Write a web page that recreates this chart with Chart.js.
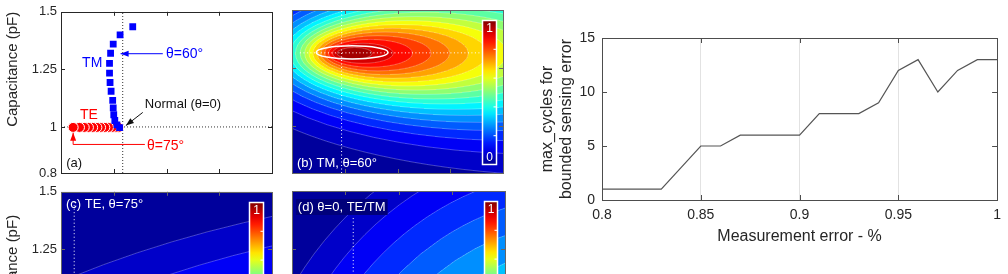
<!DOCTYPE html>
<html>
<head>
<meta charset="utf-8">
<script src="https://cdn.jsdelivr.net/npm/chart.js"></script>
<style>
  html, body { margin: 0; padding: 0; background: #fff; overflow: hidden; }
  body { width: 1008px; height: 274px; position: relative; }
  canvas { position: absolute; }
</style>
</head>
<body>
<canvas id="panelA" width="285" height="185" style="left:0px;top:0px"></canvas>
<canvas id="panelB" width="230" height="185" style="left:280px;top:0px"></canvas>
<canvas id="panelC" width="285" height="185" style="left:0px;top:180px"></canvas>
<canvas id="panelD" width="230" height="185" style="left:280px;top:180px"></canvas>
<canvas id="cyclesChart" width="488" height="274" style="left:520px;top:0px"></canvas>
<script>
// right chart: max cycles vs measurement error
const errorLevels = [0.80, 0.81, 0.82, 0.83, 0.84, 0.85, 0.86, 0.87, 0.88, 0.89, 0.90,
                     0.91, 0.92, 0.93, 0.94, 0.95, 0.96, 0.97, 0.98, 0.99, 1.00];
const maxCycles = [1, 1, 1, 1, 3, 5, 5, 6, 6, 6, 6, 8, 8, 8, 9, 12, 13, 10, 12, 13, 13];
const errorTicks = [0.8, 0.85, 0.9, 0.95, 1];
const cycleTicks = [0, 5, 10, 15];

// panel (a) points
const tmX = [1.36, 1.12, 0.99, 0.94, 0.92, 0.92, 0.93, 0.95, 0.98, 0.99, 1.00, 1.02, 1.06, 1.11];
const tmY = [1.435, 1.40, 1.36, 1.32, 1.276, 1.234, 1.193, 1.155, 1.115, 1.083, 1.053, 1.028, 1.009, 0.997];
const teX = [1.09, 1.03, 0.97, 0.90, 0.83, 0.75, 0.68, 0.60, 0.52, 0.44, 0.35, 0.23];
const teY = [0.998, 0.998, 0.998, 0.998, 0.998, 0.998, 0.998, 0.998, 0.998, 0.998, 0.998, 0.998];
const capTicks = [0.8, 1, 1.25, 1.5];
const angleTicks = [0, 1, 2, 3, 4];

const FONT = '"Liberation Sans", Arial, sans-serif';
Chart.defaults.font.family = FONT;
Chart.defaults.color = '#262626';

function jet(v) {
  const stops = [[0, [0, 0, 143]], [0.125, [0, 0, 255]], [0.375, [0, 255, 255]],
                 [0.625, [255, 255, 0]], [0.875, [255, 0, 0]], [1, [128, 0, 0]]];
  v = Math.max(0, Math.min(1, v));
  for (let i = 1; i < stops.length; i++) {
    if (v <= stops[i][0]) {
      const [a, ca] = stops[i - 1], [b, cb] = stops[i];
      const f = (v - a) / (b - a);
      return 'rgb(' + ca.map((c, k) => Math.round(c + (cb[k] - c) * f)).join(',') + ')';
    }
  }
  return 'rgb(128,0,0)';
}

// box with inward ticks, matlab style
function makeBox(color, len) {
  return {
    id: 'matlabBox',
    afterDatasetsDraw(chart) {
      const {ctx, chartArea: a, scales: {x, y}} = chart;
      ctx.save();
      ctx.strokeStyle = color;
      ctx.lineWidth = 1;
      ctx.beginPath();
      x.ticks.forEach(t => {
        const px = Math.round(x.getPixelForValue(t.value)) + 0.5;
        if (px - a.left < 2 || a.right - px < 2) return;
        ctx.moveTo(px, a.bottom); ctx.lineTo(px, a.bottom - len);
        ctx.moveTo(px, a.top); ctx.lineTo(px, a.top + len);
      });
      y.ticks.forEach(t => {
        const py = Math.round(y.getPixelForValue(t.value)) + 0.5;
        if (py - a.top < 2 || a.bottom - py < 2) return;
        ctx.moveTo(a.left, py); ctx.lineTo(a.left + len, py);
        ctx.moveTo(a.right, py); ctx.lineTo(a.right - len, py);
      });
      ctx.stroke();
      ctx.strokeRect(Math.round(a.left) + 0.5, Math.round(a.top) + 0.5, Math.round(a.width), Math.round(a.height));
      ctx.restore();
    }
  };
}

// gradient position (0..1) of a level value
function levelPos(f, v) {
  if (f.mode === 'pow') {
    return Math.min(1, Math.pow(Math.log(f.peak / v), f.q) / Math.pow(Math.log(f.peak / f.vmin), f.q));
  }
  return 1 - v / f.peak;
}

function drawField(chart, f) {
  const {ctx, chartArea: a, scales: {x, y}} = chart;
  const cx = x.getPixelForValue(f.cx), cy = y.getPixelForValue(f.cy);
  ctx.save();
  ctx.beginPath(); ctx.rect(a.left, a.top, a.width, a.height); ctx.clip();
  ctx.save();
  ctx.translate(cx, cy); ctx.scale(f.sx, 1);
  const g = ctx.createRadialGradient(0, 0, 0, f.d, 0, f.R);
  for (let k = Math.ceil(f.peak / f.step) - 1; k >= 0; k--) {
    const lo = k * f.step, hi = Math.min((k + 1) * f.step, f.peak);
    const c = jet(lo + 0.3 * f.step);
    g.addColorStop(hi >= f.peak ? 0 : levelPos(f, hi), c);
    g.addColorStop(lo <= 0 ? 1 : levelPos(f, lo), c);
  }
  ctx.fillStyle = g;
  ctx.fillRect((a.left - cx) / f.sx, a.top - cy, a.width / f.sx, a.height);
  ctx.restore();
  ctx.strokeStyle = 'rgba(255,255,255,0.38)';
  ctx.lineWidth = 0.7;
  for (let k = 1; k * f.step < f.peak; k++) {
    const t = levelPos(f, k * f.step);
    if (t >= 1) continue;
    ctx.beginPath();
    ctx.ellipse(cx + t * f.d * f.sx, cy, t * f.R * f.sx, t * f.R, 0, 0, Math.PI * 2);
    ctx.stroke();
  }
  ctx.restore();
}

function drawColorbar(chart, cb) {
  const {ctx, chartArea: a} = chart;
  const x0 = Math.round(a.right - cb.right - cb.w) + 0.5, y0 = Math.round(a.top + cb.top) + 0.5;
  const g = ctx.createLinearGradient(0, y0 + cb.h, 0, y0);
  for (let i = 0; i <= 20; i++) g.addColorStop(i / 20, jet(i / 20));
  ctx.save();
  ctx.fillStyle = g;
  ctx.fillRect(x0, y0, cb.w, cb.h);
  ctx.strokeStyle = '#fff';
  ctx.lineWidth = 1.5;
  ctx.strokeRect(x0, y0, cb.w, cb.h);
  ctx.lineWidth = 1;
  ctx.beginPath();
  [0.2, 0.4, 0.6, 0.8].forEach(v => {
    const yy = y0 + cb.h * (1 - v);
    ctx.moveTo(x0 + cb.w - 3, yy); ctx.lineTo(x0 + cb.w, yy);
  });
  ctx.stroke();
  ctx.fillStyle = '#fff';
  ctx.font = '12px ' + FONT;
  ctx.textAlign = 'center';
  ctx.textBaseline = 'top';
  ctx.fillText('1', x0 + cb.w / 2, y0 + 2);
  ctx.textBaseline = 'bottom';
  ctx.fillText('0', x0 + cb.w / 2, y0 + cb.h - 1);
  ctx.restore();
}

function drawPath(chart, p) {
  const {ctx, scales: {x, y}} = chart;
  const pts = p.pts.map(([vx, vy]) => [x.getPixelForValue(vx), y.getPixelForValue(vy)]);
  ctx.save();
  ctx.strokeStyle = p.color;
  ctx.lineWidth = p.width || 1;
  ctx.setLineDash(p.dash || []);
  ctx.beginPath();
  pts.forEach(([px, py], i) => i ? ctx.lineTo(px, py) : ctx.moveTo(px, py));
  ctx.stroke();
  if (p.arrow) {
    const [x1, y1] = pts[pts.length - 2], [x2, y2] = pts[pts.length - 1];
    const ang = Math.atan2(y2 - y1, x2 - x1), c = Math.cos(ang), s = Math.sin(ang);
    ctx.setLineDash([]);
    ctx.fillStyle = p.color;
    ctx.beginPath();
    ctx.moveTo(x2, y2);
    ctx.lineTo(x2 - 8 * c + 3 * s, y2 - 8 * s - 3 * c);
    ctx.lineTo(x2 - 8 * c - 3 * s, y2 - 8 * s + 3 * c);
    ctx.closePath();
    ctx.fill();
  }
  ctx.restore();
}

function drawRing(chart, r) {
  const {ctx, scales: {x, y}} = chart;
  const px = x.getPixelForValue(r.cx), py = y.getPixelForValue(r.cy);
  const rx = x.getPixelForValue(r.cx + r.rx) - px, ry = py - y.getPixelForValue(r.cy + r.ry);
  ctx.save();
  ctx.strokeStyle = r.color;
  ctx.lineWidth = r.width;
  ctx.beginPath();
  ctx.ellipse(px, py, rx, ry, 0, 0, Math.PI * 2);
  ctx.stroke();
  ctx.restore();
}

function drawText(chart, t) {
  const {ctx, scales: {x, y}} = chart;
  const px = x.getPixelForValue(t.x), py = y.getPixelForValue(t.y);
  ctx.save();
  ctx.font = (t.size || 13) + 'px ' + FONT;
  ctx.textAlign = 'left';
  ctx.textBaseline = 'middle';
  if (t.bg) {
    const w = ctx.measureText(t.text).width;
    ctx.fillStyle = t.bg;
    ctx.fillRect(px - 2, py - 8, w + 4, 16);
  }
  ctx.fillStyle = t.color;
  ctx.fillText(t.text, px, py);
  ctx.restore();
}

function makeDecor(cfg) {
  return {
    id: 'decor',
    beforeDatasetsDraw(chart) {
      if (cfg.field) drawField(chart, cfg.field);
      const a = chart.chartArea;
      chart.ctx.save();
      chart.ctx.beginPath(); chart.ctx.rect(a.left, a.top, a.width, a.height); chart.ctx.clip();
      (cfg.under || []).forEach(p => drawPath(chart, p));
      chart.ctx.restore();
    },
    afterDatasetsDraw(chart) {
      (cfg.rings || []).forEach(r => drawRing(chart, r));
      (cfg.over || []).forEach(p => drawPath(chart, p));
      if (cfg.colorbar) drawColorbar(chart, cfg.colorbar);
      (cfg.texts || []).forEach(t => drawText(chart, t));
    }
  };
}

function panelOptions(o) {
  return {
    responsive: false,
    animation: false,
    devicePixelRatio: 1,
    layout: {padding: {top: o.top, right: o.right, left: 0, bottom: 0}},
    plugins: {legend: {display: false}, tooltip: {enabled: false}},
    scales: {
      x: {
        type: 'linear', min: 0, max: 4,
        afterBuildTicks: s => { s.ticks = angleTicks.map(v => ({value: v})); },
        afterFit: s => { s.height = 12; },
        grid: {display: false, drawTicks: false},
        border: {display: false},
        ticks: {display: false}
      },
      y: {
        min: 0.8, max: 1.5,
        afterBuildTicks: s => { s.ticks = capTicks.map(v => ({value: v})); },
        afterFit: s => { s.width = o.yWidth; },
        grid: {display: false, drawTicks: false},
        border: {display: false},
        ticks: {display: o.yLabels, padding: 4, color: '#262626', font: {size: 13},
                callback: v => String(+v.toFixed(2))},
        title: {
          display: o.yLabels, text: 'Capacitance (pF)', align: o.titleAlign,
          color: '#262626', font: {size: 15}, padding: {top: 4, bottom: 0}
        }
      }
    }
  };
}

// (a) scatter of TM / TE
new Chart(document.getElementById('panelA'), {
  type: 'scatter',
  data: {
    datasets: [
      {label: 'TM', data: tmX.map((v, i) => ({x: v, y: tmY[i]})), pointStyle: 'rect',
       pointRadius: 4.8, backgroundColor: '#0000ff', borderColor: '#0000ff', borderWidth: 0},
      {label: 'TE', data: teX.map((v, i) => ({x: v, y: teY[i]})), pointStyle: 'circle',
       pointRadius: 5, backgroundColor: '#ff0000', borderColor: '#ffffff', borderWidth: 1}
    ]
  },
  options: panelOptions({top: 11, right: 13, yWidth: 61, yLabels: true, titleAlign: 'end'}),
  plugins: [makeDecor({
    under: [
      {pts: [[1.17, 0.8], [1.17, 1.5]], color: '#333', dash: [1, 2]},
      {pts: [[0, 1], [4, 1]], color: '#333', dash: [1, 2]}
    ],
    over: [
      {pts: [[1.93, 1.318], [1.13, 1.318]], color: '#0000ff', arrow: true},
      {pts: [[1.55, 1.063], [1.23, 1.006]], color: '#111', arrow: true},
      {pts: [[1.59, 0.924], [0.23, 0.924], [0.23, 0.975]], color: '#ff0000', arrow: true}
    ],
    texts: [
      {x: 0.40, y: 1.279, text: 'TM', color: '#0000ff', size: 14},
      {x: 0.36, y: 1.05, text: 'TE', color: '#ff0000', size: 14},
      {x: 1.99, y: 1.318, text: 'θ=60°', color: '#0000ff', size: 14},
      {x: 1.59, y: 1.097, text: 'Normal (θ=0)', color: '#111', size: 13},
      {x: 1.63, y: 0.916, text: 'θ=75°', color: '#ff0000', size: 14},
      {x: 0.10, y: 0.842, text: '(a)', color: '#111', size: 13}
    ]
  }), makeBox('#262626', 4)]
});

// (b) TM, theta=60
new Chart(document.getElementById('panelB'), {
  type: 'scatter',
  data: {datasets: [{data: []}]},
  options: panelOptions({top: 10, right: 7, yWidth: 12, yLabels: false, titleAlign: 'center'}),
  plugins: [makeDecor({
    field: {cx: 0.967, cy: 1.314, sx: 3.03, R: 144, d: 94.5, peak: 1, step: 0.05,
            mode: 'pow', q: 0.75, vmin: 0.025},
    under: [
      {pts: [[0.94, 0.8], [0.94, 1.5]], color: '#fff', dash: [1, 2.5]},
      {pts: [[0.15, 1.316], [3.6, 1.316]], color: '#fff', dash: [1, 2.5]}
    ],
    rings: [{cx: 1.14, cy: 1.318, rx: 0.68, ry: 0.028, color: '#fff', width: 1.5}],
    colorbar: {right: 7, top: 10, w: 14, h: 144},
    texts: [{x: 0.095, y: 0.842, text: '(b) TM, θ=60°', color: '#fff', size: 13}]
  }), makeBox('#666', 4)]
});

// (c) TE, theta=75
new Chart(document.getElementById('panelC'), {
  type: 'scatter',
  data: {datasets: [{data: []}]},
  options: panelOptions({top: 11, right: 13, yWidth: 61, yLabels: true, titleAlign: 'center'}),
  plugins: [makeDecor({
    field: {cx: 10.22, cy: -0.271, sx: 2, R: 444, d: 0, peak: 0.821, step: 0.05, mode: 'lin'},
    under: [{pts: [[0.25, 1.457], [0.25, 0.8]], color: '#fff', dash: [1, 2.5]}],
    colorbar: {right: 9, top: 10, w: 14, h: 144},
    texts: [{x: 0.095, y: 1.444, text: '(c) TE, θ=75°', color: '#fff', size: 13}]
  }), makeBox('#666', 4)]
});

// (d) normal incidence
new Chart(document.getElementById('panelD'), {
  type: 'scatter',
  data: {datasets: [{data: []}]},
  options: panelOptions({top: 11, right: 5, yWidth: 12, yLabels: false, titleAlign: 'center'}),
  plugins: [makeDecor({
    field: {cx: 5.50, cy: 0.361, sx: 1, R: 363, d: 0, peak: 0.70, step: 0.05, mode: 'lin'},
    under: [{pts: [[1.15, 1.383], [1.15, 0.8]], color: '#fff', dash: [1, 2.5]}],
    colorbar: {right: 8, top: 10, w: 13, h: 144},
    texts: [{x: 0.11, y: 1.431, text: '(d) θ=0, TE/TM', color: '#fff', size: 13, bg: '#00007a'}]
  }), makeBox('#666', 4)]
});

// right: max cycles line chart
new Chart(document.getElementById('cyclesChart'), {
  type: 'line',
  data: {
    datasets: [{
      data: errorLevels.map((e, i) => ({x: e, y: maxCycles[i]})),
      borderColor: '#555555',
      borderWidth: 1.2,
      pointRadius: 0,
      tension: 0,
      fill: false
    }]
  },
  options: {
    responsive: false,
    animation: false,
    devicePixelRatio: 1,
    layout: {padding: {top: 38, right: 8, left: 0, bottom: 0}},
    plugins: {legend: {display: false}, tooltip: {enabled: false}},
    scales: {
      x: {
        type: 'linear', min: 0.8, max: 1,
        afterBuildTicks: s => { s.ticks = errorTicks.map(v => ({value: v})); },
        afterFit: s => { s.height = 74; },
        grid: {color: '#e2e2e2', drawTicks: false},
        border: {display: false},
        ticks: {padding: 7, color: '#262626', font: {size: 14}, maxRotation: 0, autoSkip: false,
                callback: v => String(+v.toFixed(2))},
        title: {display: true, text: 'Measurement error - %', color: '#262626',
                font: {size: 16}, padding: {top: 0, bottom: 28}}
      },
      y: {
        min: 0, max: 15,
        afterBuildTicks: s => { s.ticks = cycleTicks.map(v => ({value: v})); },
        afterFit: s => { s.width = 82; },
        grid: {display: false, drawTicks: false},
        border: {display: false},
        ticks: {padding: 7, color: '#262626', font: {size: 14}},
        title: {display: true, text: ['max_cycles for', 'bounded sensing error'], color: '#262626',
                font: {size: 16, lineHeight: 1.2}, padding: {top: 18, bottom: 0}}
      }
    }
  },
  plugins: [makeBox('#4d4d4d', 5)]
});
</script>
</body>
</html>
